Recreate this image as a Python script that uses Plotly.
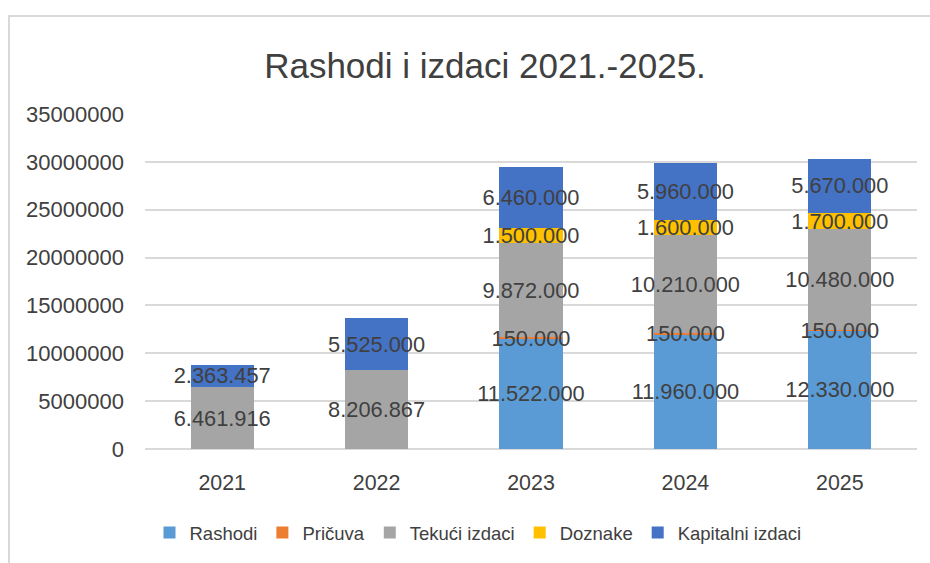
import plotly.graph_objects as go

years = ["2021", "2022", "2023", "2024", "2025"]
rashodi = [None, None, 11522000, 11960000, 12330000]
pricuva = [None, None, 150000, 150000, 150000]
tekuci = [6461916, 8206867, 9872000, 10210000, 10480000]
doznake = [None, None, 1500000, 1600000, 1700000]
kapitalni = [2363457, 5525000, 6460000, 5960000, 5670000]

series = [
    ("Rashodi", rashodi, "#5B9BD5"),
    ("Pričuva", pricuva, "#ED7D31"),
    ("Tekući izdaci", tekuci, "#A5A5A5"),
    ("Doznake", doznake, "#FFC000"),
    ("Kapitalni izdaci", kapitalni, "#4472C4"),
]

FONT = "Liberation Sans"
fig = go.Figure()
# coloured bars
for name, vals, col in series:
    fig.add_trace(go.Bar(
        x=years, y=vals, name=name, marker_color=col, marker_line_width=0,
        hoverinfo="skip", xaxis="x", yaxis="y",
    ))
# transparent overlay bars that carry the data labels (drawn on top of all bars)
for name, vals, col in series:
    fig.add_trace(go.Bar(
        x=years, y=vals, name=name, showlegend=False,
        marker_color="rgba(0,0,0,0)", marker_line_width=0,
        texttemplate="%{y:,}", textposition="inside", insidetextanchor="middle",
        constraintext="none", textangle=0,
        textfont=dict(family=FONT, size=21.8, color="#404040"),
        xaxis="x2", yaxis="y",
    ))

# plot area: x 145..917, y 114..449
L, R, T, B = 145, 13, 114, 114
W, H = 930 - L - R, 563 - T - B

def px_x(p):
    return (p - L) / W

def px_y(p):
    return (563 - B - p) / H

fig.update_layout(
    width=930, height=563,
    barmode="stack", bargap=0.59,
    separators=",.",
    paper_bgcolor="white", plot_bgcolor="white",
    margin=dict(l=L, r=R, t=T, b=B, autoexpand=False),
    title=dict(text="Rashodi i izdaci 2021.-2025.", x=485 / 930, xanchor="center",
               xref="container", y=1 - 66 / 563, yanchor="middle", yref="container",
               font=dict(family=FONT, size=35, color="#404040")),
    font=dict(family=FONT, color="#595959"),
    showlegend=True,
    legend=dict(orientation="h", x=px_x(478), xanchor="center", y=px_y(533), yanchor="middle",
                font=dict(family=FONT, size=18.5, color="#404040"), traceorder="normal",
                itemwidth=30),
    xaxis=dict(showgrid=False, showline=False, ticks="", ticklabelstandoff=19,
               tickfont=dict(family=FONT, size=21.4, color="#404040")),
    xaxis2=dict(overlaying="x", matches="x", visible=False),
    yaxis=dict(range=[0, 35000000], dtick=5000000, tickformat="d",
               showgrid=True, gridcolor="#D9D9D9", gridwidth=2,
               zeroline=True, zerolinecolor="#D9D9D9", zerolinewidth=2,
               ticks="", ticklabelstandoff=20,
               tickfont=dict(family=FONT, size=22, color="#404040")),
    shapes=[
        dict(type="line", xref="paper", yref="paper", x0=px_x(8), x1=px_x(931), y0=px_y(16), y1=px_y(16),
             line=dict(color="#D9D9D9", width=2)),
        dict(type="line", xref="paper", yref="paper", x0=px_x(9), x1=px_x(9), y0=px_y(16), y1=px_y(564),
             line=dict(color="#D9D9D9", width=2)),
    ],
)

fig.write_html("out.html", config={"displayModeBar": False},
               post_script="document.body.style.margin='0';")
